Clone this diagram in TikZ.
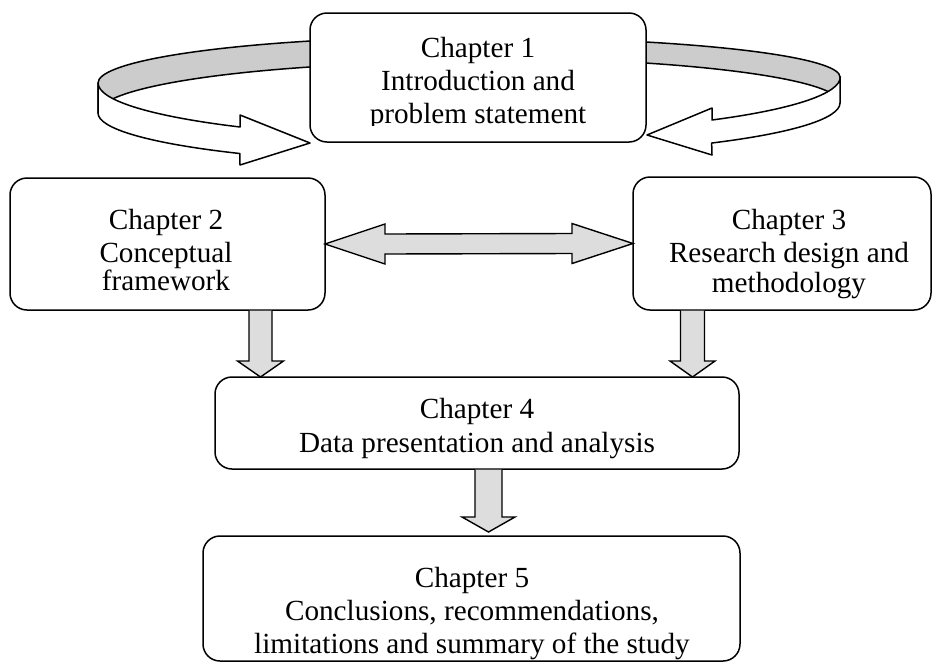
\documentclass[tikz,border=0pt]{standalone}
\usepackage{fontspec}
\setmainfont{Liberation Serif}
\usetikzlibrary{calc}
\definecolor{ribbongray}{HTML}{CCCCCC}
\definecolor{arrowgray}{HTML}{DDDDDD}
\newcommand{\dnarrow}[5]{%
  \draw[blockarrow] ($(#1)+(-#3,0.7)$) -- ($(#2)+(-#3,-#5)$) -- ($(#2)+(-#4,-#5)$) -- (#2)
    -- ($(#2)+(#4,-#5)$) -- ($(#2)+(#3,-#5)$) -- ($(#1)+(#3,0.7)$);}
\begin{document}
\begin{tikzpicture}[x=1pt,y=-1pt,
  box/.style={draw, line width=1.5pt, rounded corners=17pt, fill=white, inner sep=0pt, outer sep=0pt},
  txt/.style={anchor=base, inner sep=0pt, outer sep=0pt, font=\fontsize{29.2}{33}\selectfont},
  blockarrow/.style={draw, line width=1.4pt, fill=arrowgray, line join=miter},
  ribbon/.style={draw, line width=1.5pt, line join=round}]
\useasboundingbox (0,0) rectangle (934,662);

% back (grey) halves of the two ribbons
\path[ribbon, fill=ribbongray] (98,83) arc[start angle=180, end angle=250, x radius=380, y radius=46.8]
  -- ([shift={(478,113)}]250:380 and 51.3) arc[start angle=250, end angle=180, x radius=380, y radius=51.3] -- cycle;
\path[ribbon, fill=ribbongray] (840,77) arc[start angle=0, end angle=-70, x radius=362, y radius=39.5]
  -- ([shift={(478,103)}]-70:362 and 45.1) arc[start angle=-70, end angle=0, x radius=362, y radius=45.1] -- cycle;

% Chapter 1
\node[box, minimum width=336pt, minimum height=129pt] (c1) at (478,77.5) {};
\node[txt] (t1a) at (478,57) {Chapter 1};
\node[txt] (t1b) at (478,90) {Introduction and};
\begin{scope}
  \clip (300,13) rectangle (660,125.5);
  \node[txt] (t1c) at (478,123) {problem statement};
\end{scope}

% front (white) halves with arrow heads
\path[ribbon, fill=white] (98,83) -- (98,113) arc[start angle=180, end angle=128.8, x radius=380, y radius=52]
  -- (240,165) -- (310,143) -- (240,115) -- (240,127)
  arc[start angle=128.8, end angle=180, x radius=380, y radius=56.4] -- cycle;
\path[ribbon, fill=white] (840,77) -- (840,103) arc[start angle=0, end angle=49.8, x radius=362, y radius=52.4]
  -- (712,155) -- (647,135) -- (712,108) -- (712,120)
  arc[start angle=49.8, end angle=0, x radius=362, y radius=56.4] -- cycle;

% Chapter 2 and 3
\node[box, minimum width=315pt, minimum height=132pt] (c2) at (167.5,244) {};
\node[txt] (t2a) at (166,229) {Chapter 2};
\node[txt] (t2b) at (166,262) {Conceptual};
\node[txt] (t2c) at (166,290) {framework};

\node[box, minimum width=298pt, minimum height=133pt] (c3) at (782,243.5) {};
\node[txt] (t3a) at (789,229) {Chapter 3};
\node[txt] (t3b) at (789,262) {Research design and};
\node[txt] (t3c) at (789,292) {methodology};

% Chapter 4 and 5
\node[box, minimum width=524pt, minimum height=92pt] (c4) at (477,423) {};
\node[txt] (t4a) at (477,418) {Chapter 4};
\node[txt] (t4b) at (477,452) {Data presentation and analysis};

\node[box, minimum width=537pt, minimum height=125pt] (c5) at (471.5,598.5) {};
\node[txt] (t5a) at (472,587) {Chapter 5};
\node[txt] (t5b) at (472,620) {Conclusions, recommendations,};
\node[txt] (t5c) at (472,653) {limitations and summary of the study};

% double arrow between chapter 2 and chapter 3
\draw[blockarrow] (c2.east) -- ++(60,-20) -- ++(0,10) -- ($(c3.west)+(-61,-10)$) -- ++(0,-10)
  -- (c3.west) -- ++(-61,20) -- ++(0,-10) -- ($(c2.east)+(60,10)$) -- ++(0,10) -- cycle;

% down arrows
\coordinate (a2) at (c2.south -| 260.5,0);
\coordinate (b2) at (c4.north -| 260.5,0);
\coordinate (a3) at (c3.south -| 692.5,0);
\coordinate (b3) at (c4.north -| 692.5,0);
\coordinate (a4) at (c4.south -| 488.5,0);
\coordinate (b4) at ($(c5.north -| 488.5,0)+(0,-4)$);
\dnarrow{a2}{b2}{11.5}{23}{16}
\dnarrow{a3}{b3}{12}{22.5}{16}
\dnarrow{a4}{b4}{13.5}{26.5}{15}
\end{tikzpicture}
\end{document}
